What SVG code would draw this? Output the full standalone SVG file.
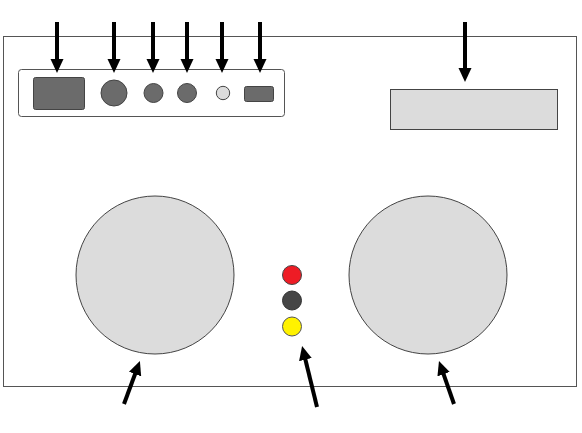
<svg xmlns="http://www.w3.org/2000/svg" width="582" height="433" viewBox="0 0 582 433">
<style>
.box{fill:#ffffff;stroke:#555555;stroke-width:1}
.dk{fill:#6b6b6b;stroke:#444444;stroke-width:1}
.lt{fill:#dcdcdc;stroke:#444444;stroke-width:1}
.arr{stroke:#000000;stroke-width:4;fill:none;marker-end:url(#ah)}
</style>
<defs>
<marker id="ah" markerUnits="userSpaceOnUse" markerWidth="14" markerHeight="14" viewBox="0 0 14 14" refX="3" refY="7" orient="auto">
<path d="M0,0.5 L14,7 L0,13.5 z" fill="#000000"/>
</marker>
</defs>
<rect width="582" height="433" fill="#ffffff"/>
<g id="device"><rect class="box" x="3.5" y="36.5" width="573" height="350"/></g>
<g id="panel"><rect class="box" x="18.5" y="69.5" width="266" height="47" rx="3"/></g>
<g id="display-port"><rect class="dk" x="33.5" y="77.5" width="51" height="32" rx="2"/></g>
<g id="jack-large"><circle class="dk" cx="114" cy="93" r="13"/></g>
<g id="jack-1"><circle class="dk" cx="153.5" cy="93" r="9.5"/></g>
<g id="jack-2"><circle class="dk" cx="187" cy="93" r="9.5"/></g>
<g id="led"><circle cx="223" cy="93" r="6.7" fill="#dcdcdc" stroke="#444444"/></g>
<g id="usb"><rect class="dk" x="244.5" y="86.5" width="29" height="15" rx="2"/></g>
<g id="screen"><rect class="lt" x="390.5" y="89.5" width="167" height="40"/></g>
<g id="speaker-left"><circle class="lt" cx="155" cy="275" r="79"/></g>
<g id="speaker-right"><circle class="lt" cx="428" cy="275" r="79"/></g>
<g id="btn-red"><circle cx="292" cy="275" r="9.5" fill="#ee1c25" stroke="#444444"/></g>
<g id="btn-black"><circle cx="292" cy="300.5" r="9.5" fill="#464646" stroke="#333333"/></g>
<g id="btn-yellow"><circle cx="292" cy="326.5" r="9.5" fill="#fff200" stroke="#555555"/></g>
<g id="connectors">
<line class="arr" x1="57" y1="22" x2="57" y2="62"/>
<line class="arr" x1="114" y1="22" x2="114" y2="62"/>
<line class="arr" x1="153" y1="22" x2="153" y2="62"/>
<line class="arr" x1="187" y1="22" x2="187" y2="62"/>
<line class="arr" x1="222" y1="22" x2="222" y2="62"/>
<line class="arr" x1="260" y1="22" x2="260" y2="62"/>
<line class="arr" x1="465" y1="22" x2="465" y2="71"/>
<line class="arr" x1="124" y1="404" x2="136.1" y2="371.3"/>
<line class="arr" x1="317" y1="407" x2="304.7" y2="356.7"/>
<line class="arr" x1="454" y1="404" x2="442.6" y2="371.4"/>
</g>
</svg>
